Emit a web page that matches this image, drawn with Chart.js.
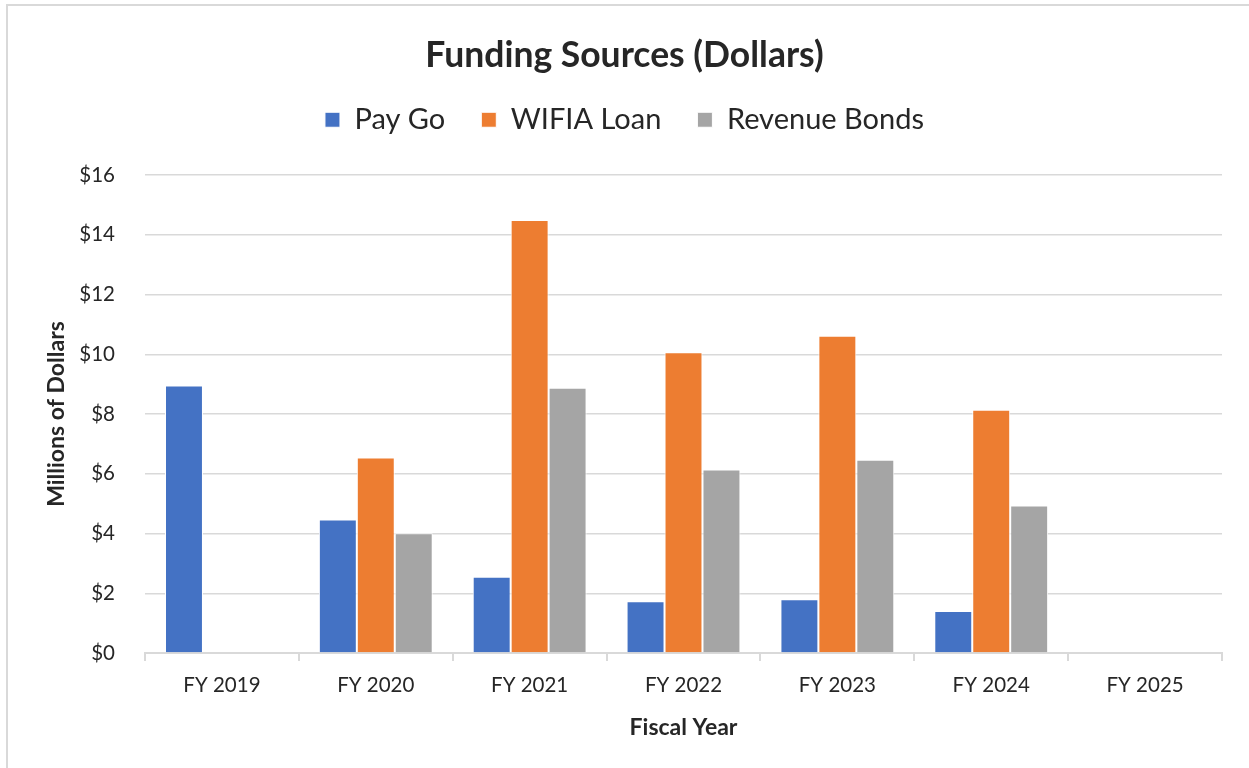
<!DOCTYPE html>
<html>
<head>
<meta charset="utf-8">
<title>Funding Sources (Dollars)</title>
<script src="https://cdn.jsdelivr.net/npm/chart.js@4"></script>
<style>
  html, body { margin: 0; padding: 0; background: #fff; overflow: hidden; }
  #frame {
    position: absolute; left: 6px; top: 4px;
    width: 1300px; height: 820px;
    border: 2px solid #d9d9d9;
  }
  #wrap { position: absolute; left: 0; top: 0; width: 1249px; height: 768px; }
</style>
</head>
<body>
<div id="frame"></div>
<div id="wrap"><canvas id="fundingChart" width="1249" height="768"></canvas></div>
<script>
// ── Data (millions of dollars) ───────────────────────────────────────────────

const fiscalYears  = ['FY 2019', 'FY 2020', 'FY 2021', 'FY 2022', 'FY 2023', 'FY 2024', 'FY 2025'];
const payGo        = [8.95, 4.47, 2.55, 1.73, 1.80, 1.41, null];
const wifiaLoan    = [null, 6.54, 14.49, 10.07, 10.62, 8.14, null];
const revenueBonds = [null, 4.01, 8.88, 6.14, 6.47, 4.94, null];
const yTicks       = [0, 2, 4, 6, 8, 10, 12, 14, 16];

const TEXT  = '#262626';
const GRID  = '#d9d9d9';
const FONT  = 'Lato, "Open Sans", sans-serif';

// ── Chart ────────────────────────────────────────────────────────────────────

function series(label, data, color) {
    return {
        label, data,
        backgroundColor: color,
        borderColor: '#ffffff',
        borderWidth: 1,
        barPercentage: 1,
        categoryPercentage: 0.74
    };
}

new Chart(document.getElementById('fundingChart').getContext('2d'), {
    type: 'bar',
    data: {
        labels: fiscalYears,
        datasets: [
            series('Pay Go',        payGo,        '#4472c4'),
            series('WIFIA Loan',    wifiaLoan,    '#ed7d31'),
            series('Revenue Bonds', revenueBonds, '#a5a5a5')
        ]
    },
    options: {
        responsive: false,
        animation: false,
        layout: { padding: 0 },
        plugins: {
            title: {
                display: true,
                text: 'Funding Sources (Dollars)',
                color: TEXT,
                font: { family: FONT, size: 35.5, weight: 'bold', lineHeight: 0.8 },
                padding: { top: 40.75, bottom: 0 }
            },
            legend: {
                position: 'top',
                labels: {
                    color: TEXT,
                    font: { family: FONT, size: 29 },
                    boxWidth: 15,
                    boxHeight: 15,
                    padding: 36
                }
            },
            // empty block under the legend, keeps a gap above the plot
            subtitle: {
                display: true,
                text: '',
                weight: 500,
                font: { size: 1, lineHeight: 1 },
                padding: { top: 29.75, bottom: 0 }
            },
            tooltip: { enabled: false }
        },
        scales: {
            x: {
                grid: {
                    drawOnChartArea: false,
                    color: GRID,
                    lineWidth: 2,
                    tickLength: 8
                },
                border: { color: GRID, width: 2 },
                ticks: {
                    color: TEXT,
                    font: { family: FONT, size: 20.5 },
                    padding: 12,
                    maxRotation: 0
                },
                title: {
                    display: true,
                    text: 'Fiscal Year',
                    color: TEXT,
                    font: { family: FONT, size: 23, weight: 'bold' },
                    padding: { top: 0, bottom: 27 }
                },
                afterFit: (scale) => { scale.height = 115; }
            },
            y: {
                min: 0,
                max: 16,
                grid: { color: GRID, lineWidth: 1.5, drawTicks: false },
                border: { display: false },
                afterBuildTicks: (scale) => { scale.ticks = yTicks.map(v => ({ value: v })); },
                ticks: {
                    color: TEXT,
                    font: { family: FONT, size: 20.5 },
                    padding: 30,
                    callback: (v) => '$' + v
                },
                title: {
                    display: true,
                    text: 'Millions of Dollars',
                    color: TEXT,
                    font: { family: FONT, size: 23, weight: 'bold' },
                    padding: { top: 43, bottom: 0 }
                },
                afterFit: (scale) => {
                    scale.width = 145;
                    scale.paddingTop = 175;   // plot top
                    scale.paddingRight = 27;  // space right of the plot
                }
            }
        }
    }
});
</script>
</body>
</html>
